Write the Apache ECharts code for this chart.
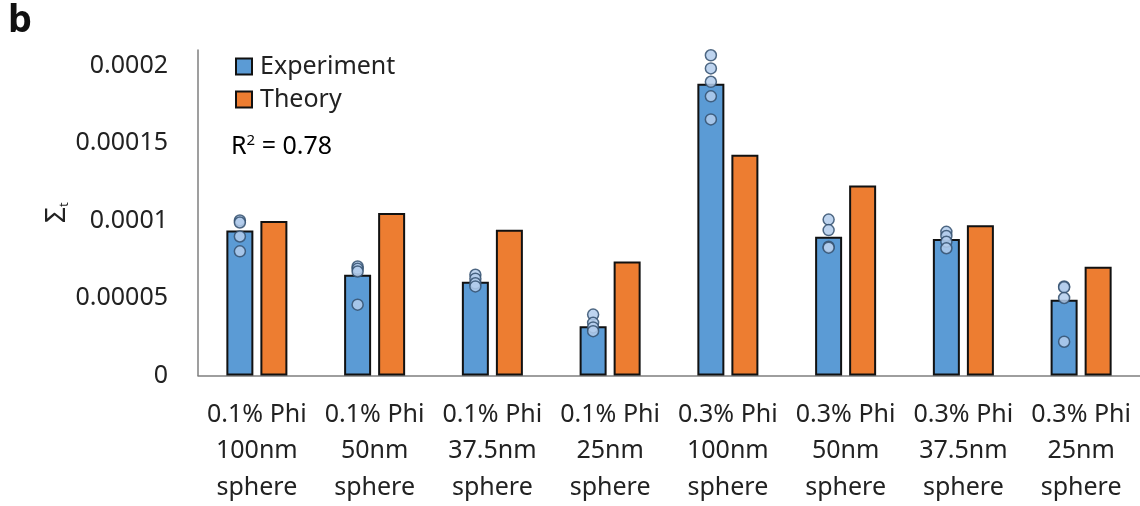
<!DOCTYPE html>
<html><head><meta charset="utf-8">
<script src="https://cdn.jsdelivr.net/npm/echarts@6/dist/echarts.min.js"></script>
<style>html,body{margin:0;padding:0;background:#fff}#c{width:1140px;height:506px}</style>
</head><body><div id="c"></div>
<script>
const categories = ['0.1% Phi\n100nm\nsphere','0.1% Phi\n50nm\nsphere','0.1% Phi\n37.5nm\nsphere','0.1% Phi\n25nm\nsphere','0.3% Phi\n100nm\nsphere','0.3% Phi\n50nm\nsphere','0.3% Phi\n37.5nm\nsphere','0.3% Phi\n25nm\nsphere'];
const experiment = [0.0000936, 0.0000650, 0.0000605, 0.0000318, 0.0001883, 0.0000895, 0.0000880, 0.0000489];
const theory = [0.0000996, 0.0001049, 0.0000940, 0.0000735, 0.0001425, 0.0001226, 0.0000970, 0.0000701];
const replicates = [
  [0.0001000, 0.0000987, 0.0000897, 0.0000801],
  [0.0000703, 0.0000688, 0.0000671, 0.0000457],
  [0.0000650, 0.0000625, 0.0000595, 0.0000575],
  [0.0000393, 0.0000340, 0.0000310, 0.0000286],
  [0.0002066, 0.0001981, 0.0001895, 0.0001801, 0.0001652],
  [0.0001006, 0.0000938, 0.0000831, 0.0000825],
  [0.0000927, 0.0000900, 0.0000863, 0.0000821],
  [0.0000575, 0.0000569, 0.0000500, 0.0000218]
];
const yTicks = [0, 0.00005, 0.0001, 0.00015, 0.0002];
const yLabels = ['0', '0.00005', '0.0001', '0.00015', '0.0002'];

const FONT = 'Noto Sans';
const FS = 25;
const scatterData = [];
replicates.forEach((arr, i) => arr.forEach(v => scatterData.push([i, v])));

const chart = echarts.init(document.getElementById('c'));
chart.setOption({
  animation: false,
  textStyle: {fontFamily: FONT},
  grid: {left: 198, top: 50, width: 944, height: 328},
  legend: {
    data: ['Experiment', 'Theory'], orient: 'vertical', left: 230, top: 49,
    itemWidth: 16, itemHeight: 16, itemGap: 8, icon: 'rect',
    textStyle: {fontFamily: FONT, fontSize: FS, color: '#222', lineHeight: 25, padding: [0,0,0,3]}
  },
  xAxis: {
    type: 'category', data: categories,
    axisLine: {lineStyle: {color: '#7f7f7f', width: 1.5}},
    axisTick: {show: false},
    axisLabel: {interval: 0, fontFamily: FONT, fontSize: FS, color: '#222', lineHeight: 36.5, margin: 21}
  },
  yAxis: {
    type: 'value', min: 0, max: 0.00021, interval: 0.00005,
    name: '{s|Σ}{t|t}', nameLocation: 'middle', nameGap: 127, nameRotate: 90, nameMoveOverlap: false,
    nameTextStyle: {rich: {s: {fontSize: 28, color: '#222', fontFamily: FONT}, t: {fontSize: 13, color: '#222', fontFamily: FONT, padding: [15,0,0,0]}}},
    axisLine: {show: true, lineStyle: {color: '#7f7f7f', width: 1.5}},
    axisTick: {show: false}, splitLine: {show: false},
    axisLabel: {
      showMaxLabel: false, margin: 30, fontFamily: FONT, fontSize: FS, color: '#222',
      formatter: v => { const i = yTicks.findIndex(t => Math.abs(t - v) < 1e-9); return i >= 0 ? yLabels[i] : ''; }
    }
  },
  series: [
    {name: 'Experiment', type: 'bar', data: experiment, barWidth: 27, barGap: '26%',
     itemStyle: {color: '#5b9bd5', borderColor: '#111', borderWidth: 2}},
    {name: 'Theory', type: 'bar', data: theory, barWidth: 27, barGap: '26%',
     itemStyle: {color: '#ed7d31', borderColor: '#111', borderWidth: 2}},
    {name: 'Replicates', type: 'scatter', data: scatterData, symbol: 'circle', symbolSize: 11,
     symbolOffset: [-17, 0], z: 5,
     itemStyle: {color: '#b3cdec', borderColor: '#34506f', borderWidth: 1.5, opacity: 0.85}}
  ],
  graphic: [
    {type: 'text', left: 8, top: 2, style: {text: 'b', font: 'bold 38px "Noto Sans"', fill: '#111'}},
    {type: 'text', left: 231, top: 133, style: {
      text: '{a|R}{b|2}{a| = 0.78}',
      rich: {a: {fontSize: FS, fontFamily: FONT, color: '#222'}, b: {fontSize: 15, fontFamily: FONT, color: '#222', padding: [0,0,13,0]}}
    }}
  ]
});
</script></body></html>
